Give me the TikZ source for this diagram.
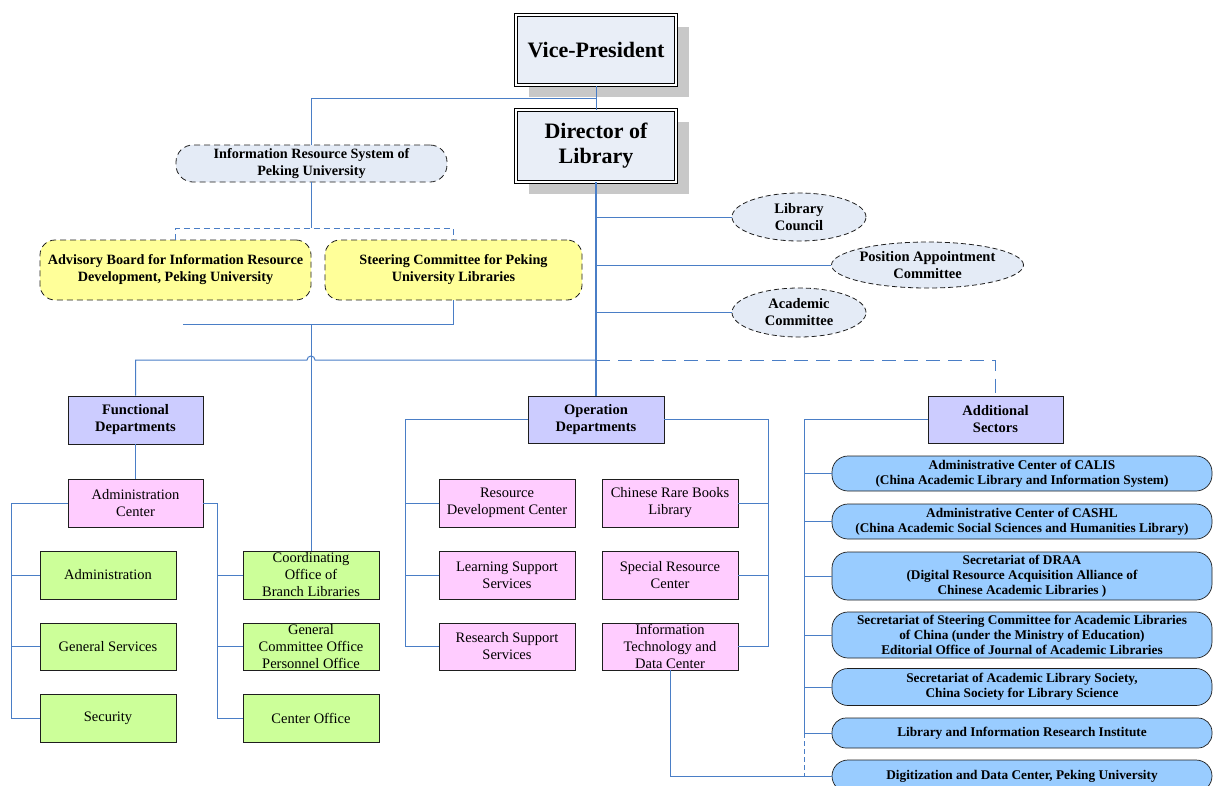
\documentclass[tikz,border=0pt]{standalone}
\usepackage{fontspec}
\setmainfont{Liberation Serif}
\usetikzlibrary{shapes.geometric,shadows}

\definecolor{lineblue}{RGB}{74,126,198}
\definecolor{topfill}{RGB}{233,238,247}
\definecolor{shadowgray}{RGB}{200,200,200}
\definecolor{cmtefill}{RGB}{228,235,246}
\definecolor{boardfill}{RGB}{255,255,153}
\definecolor{deptfill}{RGB}{204,204,255}
\definecolor{unitfill}{RGB}{255,204,255}
\definecolor{officefill}{RGB}{204,255,153}
\definecolor{sectorfill}{RGB}{153,204,255}
\definecolor{edgegray}{RGB}{30,30,30}

\begin{document}
\begin{tikzpicture}[x=1pt, y=-1pt,
  topbox/.style={draw=black, double=white, double distance=2pt, line width=1.1pt,
    fill=topfill, minimum width=160, inner sep=0, align=center,
    font=\fontsize{22}{25}\selectfont\bfseries,
    drop shadow={fill=shadowgray, opacity=1, shadow xshift=13pt, shadow yshift=-12pt}},
  cmte/.style={draw=edgegray, line width=0.8pt, dash pattern=on 5pt off 3pt, fill=cmtefill, ellipse,
    inner sep=0, align=center, font=\fontsize{14.5}{17}\selectfont\bfseries},
  board/.style={draw=edgegray, line width=0.8pt, dash pattern=on 6pt off 4pt, fill=boardfill,
    rounded corners=15pt, minimum height=60, inner sep=0, align=center,
    font=\fontsize{14.2}{17}\selectfont\bfseries},
  dept/.style={draw=edgegray, line width=0.7pt, fill=deptfill, minimum width=135, minimum height=48,
    inner sep=0, align=center, font=\fontsize{14.5}{17}\selectfont\bfseries},
  unit/.style={draw=edgegray, line width=0.7pt, fill=unitfill, minimum width=136, minimum height=48,
    inner sep=0, align=center, font=\fontsize{14.5}{17}\selectfont},
  office/.style={unit, fill=officefill},
  sector/.style={draw=edgegray, line width=0.7pt, fill=sectorfill, rounded corners=16pt, minimum width=380,
    inner sep=0, align=center, font=\fontsize{13.3}{15}\selectfont\bfseries},
  conn/.style={draw=lineblue, line width=1pt}]

  \useasboundingbox (0,0) rectangle (1213,785);
  \clip (0,0) rectangle (1213,785);

  % top of the chart
  \node[topbox, minimum height=70] (vp) at (596,50) {Vice-President};
  \node[topbox, minimum height=72, line width=0.8pt] (dir) at (596,146) {Director of\\Library};

  \node[draw=edgegray, line width=0.8pt, dash pattern=on 6pt off 4pt, fill=cmtefill, rounded corners=17pt,
    minimum width=271, minimum height=37, inner sep=0, align=center,
    font=\fontsize{14.2}{17}\selectfont\bfseries] (irs) at (311.5,163.5)
    {Information Resource System of\\Peking University};
  \node[board, minimum width=271] (adv) at (175.5,270)
    {Advisory Board for Information Resource\\Development, Peking University};
  \node[board, minimum width=257] (steer) at (453.5,270)
    {Steering Committee for Peking\\University Libraries};

  \node[cmte, minimum width=134, minimum height=48] (lc) at (799,217) {Library\\Council};
  \node[cmte, minimum width=191, minimum height=46] (pac) at (927.5,265) {Position Appointment\\Committee};
  \node[cmte, minimum width=134, minimum height=49] (acc) at (799,312.5) {Academic\\Committee};

  % departments
  \node[dept] (fd) at (135.5,420) {Functional\\Departments};
  \node[dept, minimum width=136, minimum height=47] (opd) at (596,419.5) {Operation\\Departments};
  \node[dept, minimum height=47] (as) at (995.5,419.5) {Additional\\Sectors};

  \node[unit, minimum width=135] (adc) at (135.5,503) {Administration\\Center};
  \node[office] (adm) at (108,575) {Administration};
  \node[office, minimum height=47] (gs) at (108,646.5) {General Services};
  \node[office] (sec) at (108,718) {Security};
  \node[office] (coo) at (311,575) {Coordinating\\Office of\\Branch Libraries};
  \node[office, minimum height=47] (gco) at (311,646.5) {General\\Committee Office\\Personnel Office};
  \node[office] (cof) at (311,718) {Center Office};

  \node[unit] (rdc) at (507,503) {Resource\\Development Center};
  \node[unit] (lss) at (507,575) {Learning Support\\Services};
  \node[unit, minimum height=47] (rss) at (507,646.5) {Research Support\\Services};
  \node[unit] (crb) at (670,503) {Chinese Rare Books\\Library};
  \node[unit] (src) at (670,575) {Special Resource\\Center};
  \node[unit, minimum height=47] (itc) at (670,646.5) {Information\\Technology and\\Data Center};

  \node[sector, minimum height=35] (calis) at (1022,473.5)
    {Administrative Center of CALIS\\(China Academic Library and Information System)};
  \node[sector, minimum height=35] (cashl) at (1022,521.5)
    {Administrative Center of CASHL\\(China Academic Social Sciences and Humanities Library)};
  \node[sector, minimum height=48] (draa) at (1022,576)
    {Secretariat of DRAA\\(Digital Resource Acquisition Alliance of\\Chinese Academic Libraries )};
  \node[sector, minimum height=46] (scal) at (1022,635)
    {Secretariat of Steering Committee for Academic Libraries\\of China (under the Ministry of Education)\\Editorial Office of Journal of Academic Libraries};
  \node[sector, minimum height=37] (alsc) at (1022,687)
    {Secretariat of Academic Library Society,\\China Society for Library Science};
  \node[sector, minimum height=30, rounded corners=14pt] (lir) at (1022,733)
    {Library and Information Research Institute};
  \node[sector, minimum height=32] (ddc) at (1022,776)
    {Digitization and Data Center, Peking University};

  % connectors
  \draw[conn] (vp.south) -- (dir.north);
  \draw[conn] (vp.south) ++(0,13) -| (irs.north);
  \draw[conn] (irs.south) -- ++(0,46) coordinate (irsfoot);
  \draw[conn, dash pattern=on 6pt off 4pt] (adv.north) |- (irsfoot) -| (steer.north);

  \coordinate (boardfoot) at (183,324);
  \draw[conn] (steer.south) |- (boardfoot);
  \draw[conn] (coo.north |- boardfoot) -- (coo.north);

  % bar to the departments, hopping over the line above
  \coordinate (hopL) at (307,360);
  \draw[conn] (fd.north) |- (hopL) arc[start angle=180, end angle=360, radius=4]
    -- (opd.north |- hopL);
  \draw[conn, dash pattern=on 14pt off 8pt] (opd.north |- hopL) -| (as.north);

  \draw[conn, line width=1.6pt] (dir.south) -- (opd.north);
  \foreach \n in {lc,pac,acc}
    \draw[conn] (dir.south |- \n.west) -- (\n.west);

  \draw[conn] (fd.south) -- (adc.north);
  \draw[conn] (adc.west) -- ++(-56,0) |- (sec.west);
  \foreach \n in {adm,gs}
    \draw[conn] (\n.west) -- ++(-28,0);
  \draw[conn] (adc.east) -- ++(14,0) |- (cof.west);
  \foreach \n in {coo,gco}
    \draw[conn] (\n.west) -- ++(-26,0);

  \draw[conn] (opd.west) -- ++(-122,0) |- (rss.west);
  \foreach \n in {rdc,lss}
    \draw[conn] (\n.west) -- ++(-33,0);
  \draw[conn] (opd.east) -- ++(104,0) |- (itc.east);
  \foreach \n in {crb,src}
    \draw[conn] (\n.east) -- ++(30,0);
  \draw[conn] (itc.south) |- (ddc.west);

  \draw[conn] (as.west) -- ++(-123,0) |- (lir.west);
  \foreach \n in {calis,cashl,draa,scal,alsc}
    \draw[conn] (\n.west) -- ++(-27,0);
  \draw[conn, dash pattern=on 5pt off 3pt] (lir.west) ++(-27,0) |- (ddc.west);

\end{tikzpicture}
\end{document}
